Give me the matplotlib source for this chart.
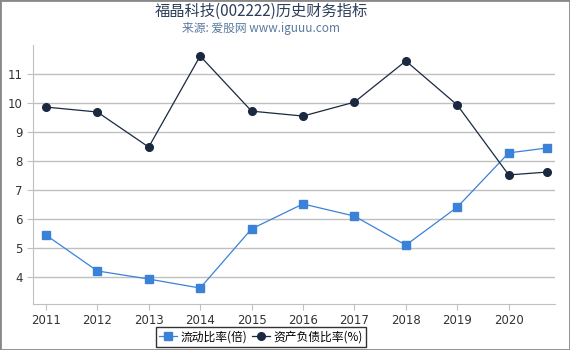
import matplotlib.pyplot as plt
from matplotlib.patches import Rectangle

plt.rcParams['font.family'] = ['Noto Sans CJK SC', 'DejaVu Sans']

# data
years = [2011, 2012, 2013, 2014, 2015, 2016, 2017, 2018, 2019, 2020, 2020.75]
year_ticks = [2011, 2012, 2013, 2014, 2015, 2016, 2017, 2018, 2019, 2020]
current_ratio = [5.45, 4.21, 3.93, 3.62, 5.66, 6.52, 6.10, 5.10, 6.41, 8.28, 8.45]
debt_ratio = [9.86, 9.69, 8.48, 11.62, 9.72, 9.55, 10.03, 11.45, 9.93, 7.52, 7.62]
y_ticks = [4, 5, 6, 7, 8, 9, 10, 11]

fig = plt.figure(figsize=(5.7, 3.5), dpi=100)
ax = fig.add_axes([33/570, 1-304/350, 522/570, 259/350])

ax.plot(years, current_ratio, color='#3a82d8', lw=0.9, marker='s', ms=5.5,
        label='流动比率(倍)')
ax.plot(years, debt_ratio, color='#1a2940', lw=0.9, marker='o', ms=5.5,
        label='资产负债比率(%)')

ax.set_xlim(2010.75, 2020.9)
ax.set_ylim(3.07, 12.0)
ax.set_xticks(year_ticks)
ax.set_xticklabels([str(y) for y in year_ticks], family='DejaVu Sans')
ax.set_yticks(y_ticks)
ax.set_yticklabels([str(y) for y in y_ticks], family='DejaVu Sans')
ax.grid(axis='y', color='#c0c0c0', lw=1)
ax.set_axisbelow(True)
for s in ['top', 'right']:
    ax.spines[s].set_visible(False)
for s in ['left', 'bottom']:
    ax.spines[s].set_color('#c0c0c0')
ax.tick_params(axis='both', colors='#c0c0c0', labelcolor='#333333',
               labelsize=8.5, length=4)
ax.tick_params(axis='x', pad=3)

cx = 261/570
fig.text(cx, 0.968, '福晶科技(002222)历史财务指标', ha='center', va='center',
         fontsize=11, color='#2c3e5a')
fig.text(cx, 0.918, '来源: 爱股网 www.iguuu.com', ha='center', va='center',
         fontsize=8.5, color='#5a7a9e')

leg = fig.legend(loc='center', bbox_to_anchor=(cx, 1-337/350), ncol=2,
                 frameon=True, fontsize=8.5, handlelength=1.5, handletextpad=0.3,
                 columnspacing=0.4, borderpad=0.3, fancybox=False)
leg.get_frame().set_edgecolor('black')
leg.get_frame().set_linewidth(1)

fig.patches.append(Rectangle((0, 0), 1, 1, transform=fig.transFigure,
                             fill=False, edgecolor='#888888', lw=2))

fig.savefig('out.png', dpi=100)
